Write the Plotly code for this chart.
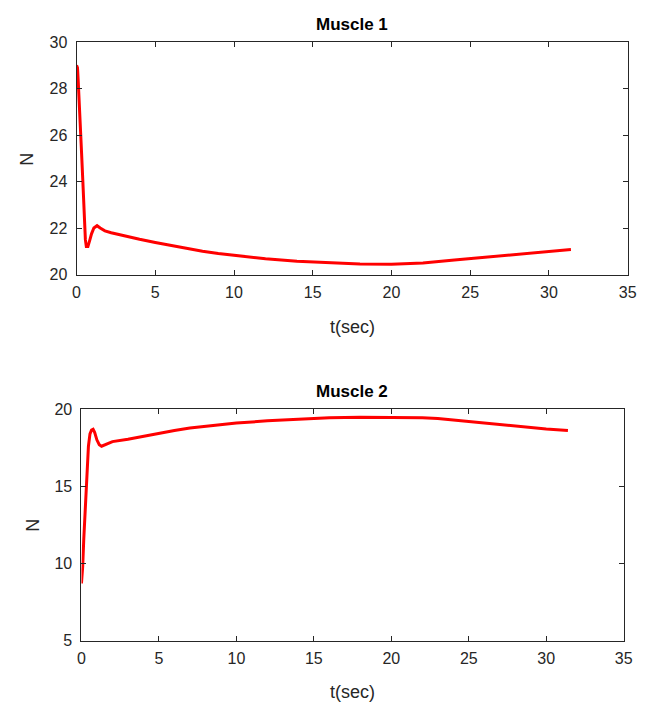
import plotly.graph_objects as go

W, H = 668, 714

# Muscle 1 data
t1 = [0, 0.06, 0.1, 0.15, 0.25, 0.32, 0.4, 0.45, 0.5, 0.56, 0.62, 0.72, 0.85, 0.95, 1.1, 1.3, 1.5, 1.8,
      2.2, 3, 4, 5, 6, 7, 8, 9, 10, 12, 14, 16, 18, 20, 22, 24, 26, 28, 30, 31.4]
f1 = [29.0, 28.9, 28.4, 27.5, 26.5, 25.2, 24.0, 23.0, 22.2, 21.5, 21.2, 21.2, 21.5, 21.75, 22.0, 22.1, 22.0, 21.88,
      21.8, 21.67, 21.52, 21.38, 21.25, 21.12, 21.0, 20.9, 20.82, 20.68, 20.57, 20.5, 20.45, 20.44, 20.5, 20.62, 20.74, 20.88, 21.0, 21.08]

# Muscle 2 data
t2 = [0, 0.08, 0.15, 0.25, 0.35, 0.45, 0.55, 0.65, 0.75, 0.85, 1.0, 1.15, 1.3, 1.6, 2.0, 3, 4, 5, 6, 7, 8, 9, 10,
      12, 14, 16, 18, 20, 22, 23, 24, 25, 26, 27, 28, 29, 30, 31.4]
f2 = [8.7, 9.8, 11.6, 13.8, 15.9, 17.6, 18.4, 18.65, 18.7, 18.5, 18.0, 17.7, 17.6, 17.75, 17.9, 18.05, 18.25, 18.45, 18.62, 18.78, 18.9, 19.0, 19.1,
      19.25, 19.37, 19.45, 19.48, 19.48, 19.45, 19.4, 19.3, 19.2, 19.1, 19.0, 18.92, 18.82, 18.72, 18.62]

x_ticks = [0, 5, 10, 15, 20, 25, 30, 35]
y1_ticks = [20, 22, 24, 26, 28, 30]
y2_ticks = [5, 10, 15, 20]

def px_x(p):
    return p / W

def px_y(p):
    return 1 - p / H

fig = go.Figure()
fig.add_trace(go.Scatter(x=t1, y=f1, mode="lines", line=dict(color="#ff0000", width=3),
                         xaxis="x", yaxis="y", showlegend=False))
fig.add_trace(go.Scatter(x=t2, y=f2, mode="lines", line=dict(color="#ff0000", width=3),
                         xaxis="x2", yaxis="y2", showlegend=False))

tickfont = dict(family="Liberation Sans, Arial, sans-serif", size=16, color="#262626")
axis_common = dict(showgrid=False, zeroline=False, showline=True, linecolor="#262626", linewidth=1,
                   mirror="ticks", ticks="inside", ticklen=5, tickcolor="#262626", tickwidth=1,
                   tickfont=tickfont)

fig.update_layout(
    width=W, height=H,
    margin=dict(l=0, r=0, t=0, b=0),
    paper_bgcolor="white", plot_bgcolor="white",
    xaxis=dict(domain=[px_x(74), px_x(636)], range=[0, 35], tickvals=x_ticks, anchor="y",
               ticklabelstandoff=3, **axis_common),
    yaxis=dict(domain=[px_y(273), px_y(35)], range=[20, 30], tickvals=y1_ticks, anchor="x",
               ticklabelstandoff=5, **axis_common),
    xaxis2=dict(domain=[px_x(79), px_x(632)], range=[0, 35], tickvals=x_ticks, anchor="y2",
                ticklabelstandoff=3, **axis_common),
    yaxis2=dict(domain=[px_y(648), px_y(411)], range=[5, 20], tickvals=y2_ticks, anchor="x2",
                ticklabelstandoff=5, **axis_common),
)

title_font = dict(family="Liberation Sans, Arial, sans-serif", size=17, color="#000000")
label_font = dict(family="Liberation Sans, Arial, sans-serif", size=18, color="#262626")

annotations = [
    dict(text="<b>Muscle 1</b>", x=px_x(355), y=px_y(17), font=title_font),
    dict(text="<b>Muscle 2</b>", x=px_x(355), y=px_y(393), font=title_font),
    dict(text="t(sec)", x=px_x(355), y=px_y(327), font=label_font),
    dict(text="t(sec)", x=px_x(355), y=px_y(701), font=label_font),
    dict(text="N", x=px_x(24), y=px_y(155), font=label_font, textangle=-90),
    dict(text="N", x=px_x(30), y=px_y(530), font=label_font, textangle=-90),
]
for a in annotations:
    a.update(xref="paper", yref="paper", showarrow=False, xanchor="center", yanchor="middle")
fig.update_layout(annotations=annotations)

fig.write_html("out.html")
